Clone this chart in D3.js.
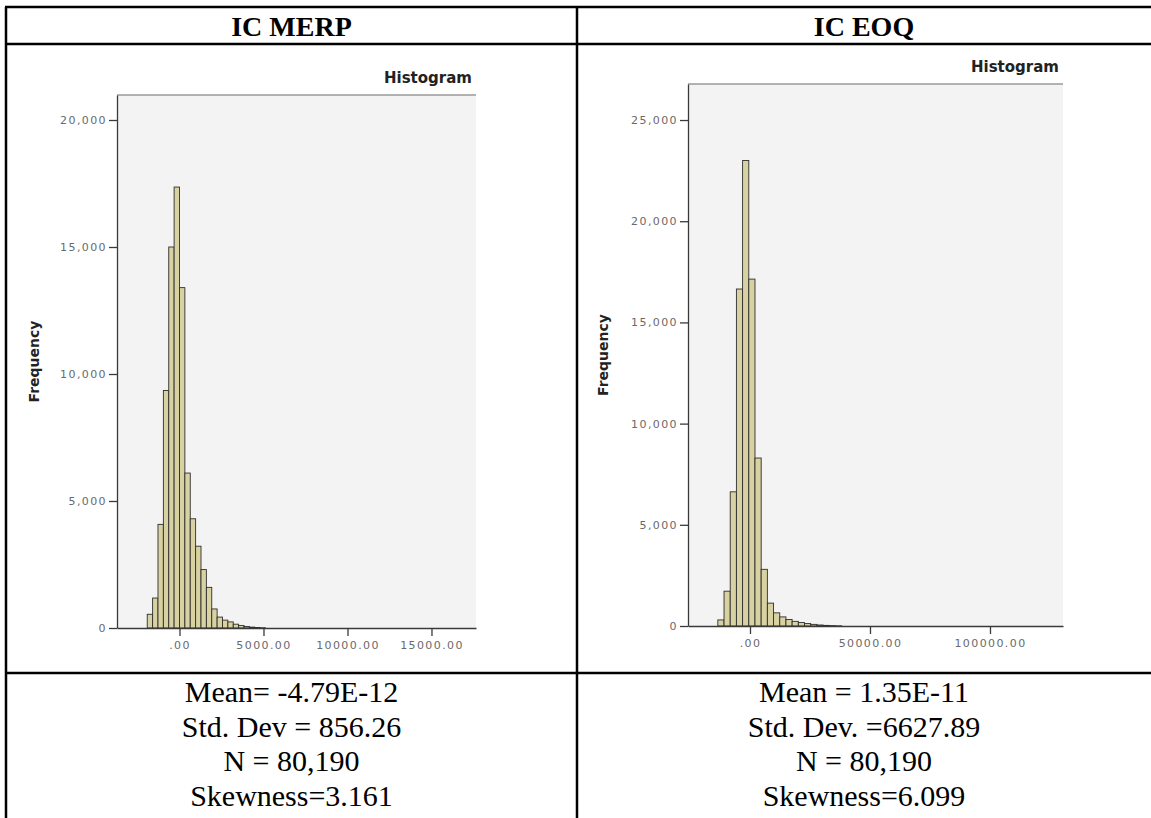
<!DOCTYPE html>
<html>
<head>
<meta charset="utf-8">
<script src="https://cdn.jsdelivr.net/npm/d3@7"></script>
<style>
body { margin: 0; background: #fff; }
svg { display: block; }
.axis text { font-family: "DejaVu Sans", sans-serif; font-size: 11px; fill: #6a6a6a; letter-spacing: 1.4px; }
.axis path, .axis line { stroke: #3a3a3a; stroke-width: 1.3; }
</style>
</head>
<body>
<script>
var W = 1151, H = 818;

// IC MERP residual histogram
var merpTitle = "IC MERP";
var merpStart = -1920, merpBin = 320;
var merpCounts = [540, 1180, 4080, 9350, 15000, 17360, 13400, 6100, 4300, 3220, 2300, 1600, 750, 430, 310, 240,
    150, 100, 60, 35, 20, 10];
var merpYTicks = [0, 5000, 10000, 15000, 20000];
var merpXTicks = [0, 5000, 10000, 15000];
var merpStats = ["Mean= -4.79E-12", "Std. Dev = 856.26", "N = 80,190", "Skewness=3.161"];

// IC EOQ residual histogram
var eoqTitle = "IC EOQ";
var eoqStart = -13400, eoqBin = 2580;
var eoqCounts = [300, 1720, 6630, 16650, 23000, 17140, 8300, 2800, 1130, 650, 450, 320, 230, 170, 120,
    80, 50, 30, 20, 10];
var eoqYTicks = [0, 5000, 10000, 15000, 20000, 25000];
var eoqXTicks = [0, 50000, 100000];
var eoqStats = ["Mean = 1.35E-11", "Std. Dev. =6627.89", "N = 80,190", "Skewness=6.099"];

var table = {left: 6, top: 7, right: 1151, mid: 577, head: 44, row: 673};

var panels = [
    {title: merpTitle, start: merpStart, bin: merpBin, counts: merpCounts, yTicks: merpYTicks, xTicks: merpXTicks,
     stats: merpStats, cx: (table.left + table.mid) / 2,
     left: 117, right: 476, top: 95, base: 628, xDomain: [-3720, 17650], yMax: 20984, freqX: 39},
    {title: eoqTitle, start: eoqStart, bin: eoqBin, counts: eoqCounts, yTicks: eoqYTicks, xTicks: eoqXTicks,
     stats: eoqStats, cx: (table.mid + table.right) / 2,
     left: 688, right: 1063, top: 84, base: 626, xDomain: [-25830, 130420], yMax: 26780, freqX: 608},
];

var svg = d3.select("body").append("svg")
    .attr("width", W)
    .attr("height", H);

function drawHistogram(p) {
    var g = svg.append("g").attr("class", "chart");
    var x = d3.scaleLinear().domain(p.xDomain).range([p.left, p.right]);
    var y = d3.scaleLinear().domain([0, p.yMax]).range([p.base, p.top]);

    g.append("rect")
        .attr("x", p.left).attr("y", p.top)
        .attr("width", p.right - p.left).attr("height", p.base - p.top)
        .attr("fill", "#f3f3f3");
    g.append("line")
        .attr("x1", p.left).attr("x2", p.right)
        .attr("y1", p.top).attr("y2", p.top)
        .attr("stroke", "#9a9a9a").attr("stroke-width", 1.5);

    var bins = p.counts.map((n, i) => ({x0: p.start + i * p.bin, x1: p.start + (i + 1) * p.bin, n: n}));
    g.append("g").selectAll("rect")
        .data(bins)
        .enter().append("rect")
        .attr("x", d => x(d.x0))
        .attr("y", d => y(d.n))
        .attr("width", d => x(d.x1) - x(d.x0))
        .attr("height", d => p.base - y(d.n))
        .attr("fill", "#d8d1a1")
        .attr("stroke", "#2e2e2e")
        .attr("stroke-width", 0.9);

    g.append("g")
        .attr("class", "axis")
        .attr("transform", `translate(${p.left}, 0)`)
        .call(d3.axisLeft(y).tickValues(p.yTicks).tickFormat(d3.format(",")).tickSize(8).tickSizeOuter(0).tickPadding(2));
    g.append("g")
        .attr("class", "axis")
        .attr("transform", `translate(0, ${p.base})`)
        .call(d3.axisBottom(x).tickValues(p.xTicks).tickFormat(d => d === 0 ? ".00" : d.toFixed(2)).tickSize(8).tickSizeOuter(0).tickPadding(5));

    g.append("text")
        .attr("x", p.right - 4).attr("y", p.top - 12)
        .attr("text-anchor", "end")
        .attr("font-family", "DejaVu Sans, sans-serif")
        .attr("font-weight", "bold")
        .attr("font-size", 15)
        .attr("fill", "#222")
        .text("Histogram");
    g.append("text")
        .attr("transform", `translate(${p.freqX}, ${(p.top + p.base) / 2}) rotate(-90)`)
        .attr("text-anchor", "middle")
        .attr("font-family", "DejaVu Sans, sans-serif")
        .attr("font-weight", "bold")
        .attr("font-size", 14)
        .attr("fill", "#222")
        .text("Frequency");

    svg.append("text")
        .attr("x", p.cx).attr("y", 36)
        .attr("text-anchor", "middle")
        .attr("font-family", "Liberation Serif, Times New Roman, serif")
        .attr("font-weight", "bold")
        .attr("font-size", 28)
        .text(p.title);

    svg.append("g").selectAll("text")
        .data(p.stats)
        .enter().append("text")
        .attr("x", p.cx)
        .attr("y", (d, i) => 702 + i * 34.5)
        .attr("text-anchor", "middle")
        .attr("font-family", "Liberation Serif, Times New Roman, serif")
        .attr("font-size", 30)
        .text(d => d);
}

panels.forEach(drawHistogram);

// table rules
var rules = svg.append("g").attr("stroke", "#000").attr("stroke-width", 2.5);
[table.top, table.head, table.row].forEach(function(yy) {
    rules.append("line").attr("x1", table.left - 1).attr("x2", table.right).attr("y1", yy).attr("y2", yy);
});
[table.left, table.mid].forEach(function(xx) {
    rules.append("line").attr("x1", xx).attr("x2", xx).attr("y1", table.top).attr("y2", H);
});
</script>
</body>
</html>
